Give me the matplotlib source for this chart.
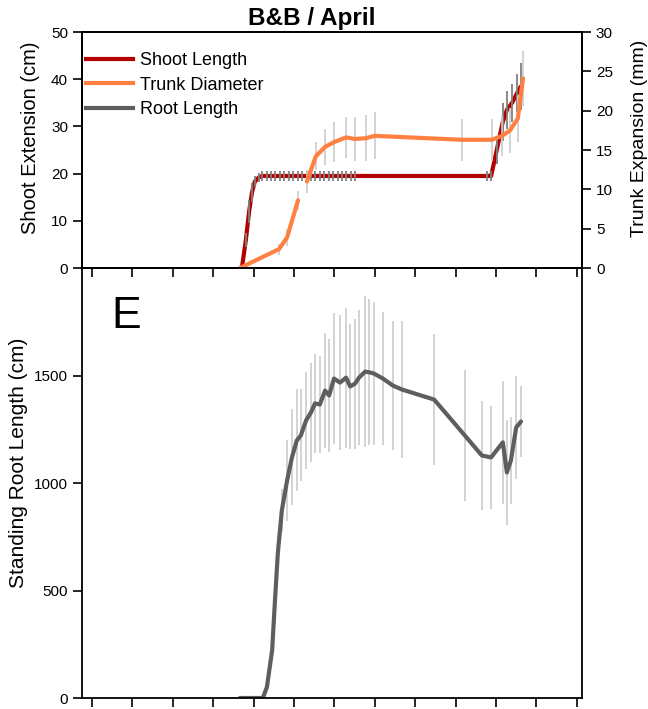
import numpy as np
import matplotlib
matplotlib.use("Agg")
import matplotlib.pyplot as plt
from matplotlib.lines import Line2D

plt.rcParams['font.family'] = ['Liberation Sans', 'DejaVu Sans']

# ---- data (x in months) ----
shoot_x = [3.71, 3.81, 3.89, 3.96, 4.03, 4.13,
           4.21, 4.32, 4.43, 4.54, 4.65, 4.76, 4.87, 4.98, 5.09, 5.20, 5.31,
           5.42, 5.53, 5.64, 5.75, 5.86, 5.97, 6.08, 6.19, 6.30, 6.41, 6.51,
           9.78, 9.88, 10.02, 10.17, 10.27, 10.40, 10.52, 10.62]
shoot_y = [0, 6, 12, 16, 18.3, 19.2,
           19.5, 19.5, 19.5, 19.5, 19.5, 19.5, 19.5, 19.5, 19.5, 19.5, 19.5,
           19.5, 19.5, 19.5, 19.5, 19.5, 19.5, 19.5, 19.5, 19.5, 19.5, 19.5,
           19.5, 19.5, 25, 31, 33.5, 35, 37, 38.5]
shoot_err = [0.5, 1.5, 2.5, 2, 1.2, 1,
             1, 1, 1, 1, 1, 1, 1, 1, 1, 1, 1,
             1, 1, 1, 1, 1, 1, 1, 1, 1, 1, 1,
             1, 1, 3, 4, 4, 4, 4, 5]

trunk_x = [3.66, 4.63, 4.83, 5.10, 5.20, 5.32, 5.54, 5.77, 5.99, 6.29, 6.51,
           6.78, 7.00, 9.16, 9.90, 10.15, 10.35, 10.54, 10.67]
trunk_y = [0, 2.4, 3.9, 8.6, np.nan, 11.0, 14.2, 15.4, 16.0, 16.6, 16.4,
           16.5, 16.8, 16.3, 16.3, 16.8, 17.5, 19.0, 24.1]
trunk_err = [0, 0.7, 1.1, 1.2, np.nan, 1.5, 1.8, 2.3, 2.5, 2.6, 2.8,
             2.9, 3.0, 2.7, 2.7, 2.5, 2.9, 3.0, 3.5]

root_x = [3.66, 3.90, 4.10, 4.23, 4.33, 4.46, 4.53, 4.60, 4.70, 4.83, 4.95,
          5.07, 5.17, 5.30, 5.42, 5.52, 5.64, 5.77, 5.87, 5.99, 6.14, 6.29,
          6.39, 6.51, 6.61, 6.76, 6.86, 6.98, 7.20, 7.45, 7.67, 8.47, 9.23,
          9.65, 9.88, 10.17, 10.27, 10.37, 10.50, 10.62]
root_y = [0, 0, 0, 0, 51, 223, 455, 673, 873, 1012, 1119,
          1198, 1221, 1291, 1328, 1370, 1365, 1430, 1407, 1486, 1467, 1490,
          1449, 1462, 1490, 1518, 1515, 1509, 1486, 1453, 1435, 1388, 1221,
          1128, 1119, 1189, 1049, 1105, 1258, 1286]
root_err = [0, 0, 0, 0, 20, 40, 60, 80, 100, 190, 223,
            237, 214, 225, 228, 232, 225, 267, 262, 304, 313, 325,
            290, 302, 313, 350, 339, 332, 311, 299, 318, 306, 306,
            253, 241, 286, 246, 204, 241, 167]

x_ticks = list(range(13))
shoot_ticks = [0, 10, 20, 30, 40, 50]
trunk_ticks = [0, 5, 10, 15, 20, 25, 30]
root_ticks = [0, 500, 1000, 1500]

RED = '#b50000'
ORANGE = '#ff8040'
GREY = '#5e5e5e'

W, H = 648, 709
fig = plt.figure(figsize=(W / 100, H / 100), dpi=100)
L, R = 82 / W, 582 / W
ax_b = fig.add_axes([L, 1 - 698 / H, R - L, (698 - 268) / H])
ax = fig.add_axes([L, 1 - 268 / H, R - L, (268 - 32) / H])
ax2 = ax.twinx()
ax_b.patch.set_visible(False)

xlim = (-0.2475, 12.13)
for a in (ax, ax_b):
    a.set_xlim(*xlim)
    a.set_xticks(x_ticks)
    a.set_xticklabels([])

lw = 3.0
ax.errorbar(shoot_x, shoot_y, yerr=shoot_err, fmt='none', ecolor='#808080',
            elinewidth=1.3, capsize=0, zorder=3)
ax.plot(shoot_x, shoot_y, color=RED, lw=lw, solid_capstyle='round',
        solid_joinstyle='round', zorder=2)
ax2.errorbar(trunk_x, trunk_y, yerr=trunk_err, fmt='none', ecolor='#cccccc',
             elinewidth=1.2, capsize=0, zorder=1)
ax2.plot(trunk_x, trunk_y, color=ORANGE, lw=lw, solid_capstyle='round',
         solid_joinstyle='round', zorder=2)
ax_b.errorbar(root_x, root_y, yerr=root_err, fmt='none', ecolor='#c8c8c8',
              elinewidth=1.1, capsize=0, zorder=1)
ax_b.plot(root_x, root_y, color=GREY, lw=lw, solid_capstyle='round',
          solid_joinstyle='round', zorder=2)

ax.set_ylim(0, 50)
ax.set_yticks(shoot_ticks)
ax2.set_ylim(0, 30)
ax2.set_yticks(trunk_ticks)
ax_b.set_ylim(0, 2000)
ax_b.set_yticks(root_ticks)

for a in (ax, ax2, ax_b):
    a.tick_params(direction='out', length=6.5, width=1.2, labelsize=11,
                  colors='black', pad=3.5)
    for s in a.spines.values():
        s.set_linewidth(1.3)
ax_b.spines['top'].set_visible(False)

ax.set_ylabel('Shoot Extension (cm)', fontsize=14.5)
ax.yaxis.set_label_coords(-0.083, 0.55)
ax2.set_ylabel('Trunk Expansion (mm)', fontsize=14)
ax2.yaxis.set_label_coords(1.097, 0.55)
ax_b.set_ylabel('Standing Root Length (cm)', fontsize=15)
ax_b.yaxis.set_label_coords(-0.108, 0.547)

ax_b.text(0.058, 0.935, 'E', transform=ax_b.transAxes, fontsize=32,
          va='top', ha='left')

fig.text(312 / W, 1 - 18 / H, 'B&B / April', fontsize=17.5, fontweight='bold',
         ha='center', va='center')

handles = [Line2D([], [], color=RED, lw=lw),
           Line2D([], [], color=ORANGE, lw=lw),
           Line2D([], [], color=GREY, lw=lw)]
ax2.legend(handles, ['Shoot Length', 'Trunk Diameter', 'Root Length'],
           loc='upper left', bbox_to_anchor=(0.008, 0.915), frameon=False,
           fontsize=13, handlelength=2.6, handletextpad=0.4,
           labelspacing=0.42, borderaxespad=0, borderpad=0)

fig.savefig('out.png', dpi=100)
